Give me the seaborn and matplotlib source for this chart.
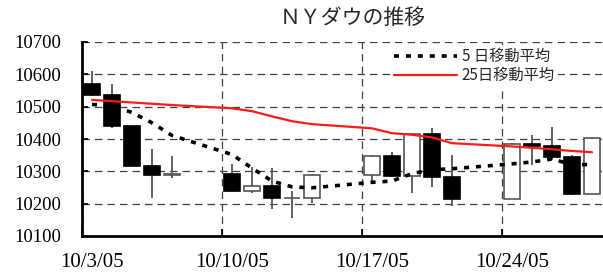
import numpy as np
import pandas as pd
import matplotlib
matplotlib.use("Agg")
import matplotlib.pyplot as plt
import seaborn as sns

# Daily OHLC and moving averages
dates = ["2005-10-03", "2005-10-04", "2005-10-05", "2005-10-06", "2005-10-07",
         "2005-10-10", "2005-10-11", "2005-10-12", "2005-10-13", "2005-10-14",
         "2005-10-17", "2005-10-18", "2005-10-19", "2005-10-20", "2005-10-21",
         "2005-10-24", "2005-10-25", "2005-10-26", "2005-10-27", "2005-10-28"]
opens = [10568.70, 10535.48, 10441.11, 10317.36, 10287.34,
         10292.31, 10238.76, 10253.17, 10216.59, 10216.91,
         10287.34, 10348.10, 10285.26, 10414.13, 10281.10,
         10215.22, 10385.00, 10377.87, 10344.98, 10229.95]
highs = [10611, 10570, 10441, 10370, 10347,
         10323, 10312, 10309, 10240, 10292,
         10350, 10361, 10416, 10433, 10350,
         10387, 10412, 10436, 10350, 10405]
lows = [10533, 10435, 10315, 10217, 10280,
        10236, 10232, 10184, 10155, 10201,
        10268, 10283, 10232, 10251, 10193,
        10213, 10319, 10336, 10228, 10229]
closes = [10535.48, 10441.11, 10317.36, 10287.34, 10292.31,
          10238.76, 10253.17, 10216.59, 10216.91, 10287.34,
          10348.10, 10285.26, 10414.13, 10281.10, 10215.22,
          10385.00, 10377.87, 10344.98, 10229.95, 10402.77]
ma5 = [10507, 10503, 10482, 10450, 10411,
       10352, 10310, 10270, 10252, 10249,
       10266, 10270, 10293, 10305, 10308,
       10323, 10329, 10338, 10321, 10321]
ma25 = [10521, 10517, 10513, 10509, 10505,
        10495, 10486, 10470, 10455, 10446,
        10433, 10418, 10413, 10405, 10387,
        10377, 10373, 10368, 10363, 10359]

week_labels = ["10/3/05", "10/10/05", "10/17/05", "10/24/05"]

df = pd.DataFrame({"date": pd.to_datetime(dates), "open": opens, "high": highs,
                   "low": lows, "close": closes, "ma5": ma5, "ma25": ma25})
start = pd.Timestamp("2005-10-03")
# date axis in days, candles centred inside each day slot
df["x"] = (df["date"] - start).dt.days + 0.5

sns.set_theme(style="white")
plt.rcParams["font.family"] = ["Noto Sans CJK JP", "DejaVu Sans"]
plt.rcParams["font.serif"] = ["Liberation Serif", "DejaVu Serif"]

fig = plt.figure(figsize=(6.03, 2.76), dpi=100)
ax = fig.add_axes([82 / 603, 40 / 276, 520 / 603, 194 / 276])

up = df["close"] >= df["open"]

# wicks
ax.vlines(df["x"], df["low"], df["high"], color="#555555", lw=1.3, zorder=2)

# bodies
ax.bar(df["x"], (df["close"] - df["open"]).abs(),
       bottom=np.minimum(df["open"], df["close"]), width=0.8,
       color=np.where(up, "white", "black"),
       edgecolor=np.where(up, "#555555", "black"), linewidth=1.2, zorder=3)

# moving averages
sns.lineplot(data=df, x="x", y="ma5", ax=ax, color="black", lw=2.6,
             linestyle=(0, (1.4, 1.9)), label="5 日移動平均", zorder=4)
sns.lineplot(data=df, x="x", y="ma25", ax=ax, color="#ff1a1a", lw=1.6,
             label="25日移動平均", zorder=5)

ax.set_xlim(0, 26)
ax.set_ylim(10100, 10700)
ax.set_xlabel("")
ax.set_ylabel("")

ax.grid(True, which="major", ls=(0, (6, 4)), color="#404040", lw=0.9)

for s in ["top", "right"]:
    ax.spines[s].set_visible(False)
for s in ["left", "bottom"]:
    ax.spines[s].set_color("black")
    ax.spines[s].set_linewidth(2)

ax.tick_params(axis="x", which="major", direction="in", length=5, width=1.2,
               color="black", bottom=True)
ax.tick_params(axis="x", which="minor", length=0, pad=12, labelsize=15,
               labelcolor="black", labelfontfamily="serif")
ax.tick_params(axis="y", direction="in", length=4, width=1.2, color="black",
               left=True, pad=15, labelsize=13.5, labelcolor="black",
               labelfontfamily="serif")

yt = list(range(10100, 10701, 100))
ax.set_yticks(yt)
ax.set_yticklabels([str(v) for v in yt], fontfamily="serif")
ax.set_xticks([0, 7, 14, 21])
ax.set_xticklabels([""] * 4)
ax.set_xticks([0.5, 7.5, 14.5, 21.5], minor=True)
ax.set_xticklabels(week_labels, minor=True, fontfamily="serif")
ax.grid(False, which="minor")

ax.legend(loc="upper right", bbox_to_anchor=(0.915, 0.985), fontsize=11,
          frameon=True, facecolor="white", edgecolor="none", framealpha=1,
          handlelength=4.1, handletextpad=0.3, labelspacing=0.15,
          borderpad=0.2, borderaxespad=0)

fig.text(0.585, 0.935, "ＮＹダウの推移", ha="center", va="center",
         fontsize=15, family=["Noto Sans CJK JP", "DejaVu Sans"])

fig.savefig("out.png", dpi=100)
